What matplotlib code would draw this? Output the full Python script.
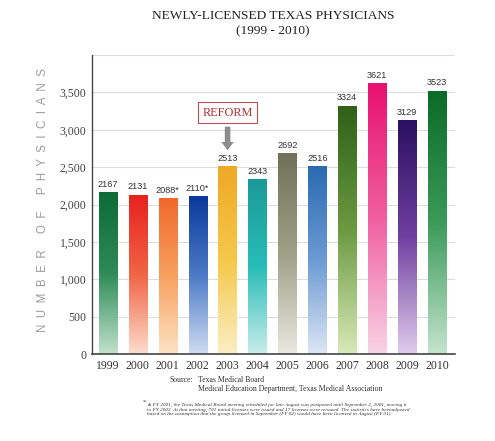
import numpy as np
import matplotlib.pyplot as plt
from matplotlib.colors import LinearSegmentedColormap
from matplotlib.patches import Rectangle

# DATA #################################################################################################################
years = ["1999", "2000", "2001", "2002", "2003", "2004", "2005", "2006", "2007", "2008", "2009", "2010"]
physicians = [2167, 2131, 2088, 2110, 2513, 2343, 2692, 2516, 3324, 3621, 3129, 3523]
value_labels = ["2167", "2131", "2088*", "2110*", "2513", "2343", "2692", "2516", "3324", "3621", "3129", "3523"]
# top, middle, bottom colour of each gradient bar
bar_colors = [
    ("#0d6b35", "#2e8b57", "#c0e2cc"),
    ("#e8211e", "#f06444", "#fcdccc"),
    ("#f0682a", "#f7a060", "#fde4c4"),
    ("#0a3a9a", "#4c7ac8", "#d0dcf0"),
    ("#f0a828", "#f5c84a", "#fbeec4"),
    ("#1a9a98", "#28bcb8", "#c8eeea"),
    ("#707058", "#a0a088", "#e8e8e0"),
    ("#2a6ab0", "#6c9ad4", "#dce6f4"),
    ("#2e6018", "#6a9a40", "#d8e8b8"),
    ("#e81070", "#f060a0", "#f8d4e6"),
    ("#2a1060", "#7040a0", "#e0ccec"),
    ("#0a6a28", "#3a9a5a", "#c4e4cc"),
]
yticks = [0, 500, 1000, 1500, 2000, 2500, 3000, 3500, 4000]

# FIGURE ###############################################################################################################
serif = ["Liberation Serif", "DejaVu Serif"]
sans = ["Liberation Sans", "DejaVu Sans"]

fig = plt.figure(figsize=(4.95, 4.41), dpi=100)
ax = fig.add_axes([0.186, 0.197, 0.733, 0.678])

x = np.arange(len(years))
width = 0.61
bars = ax.bar(x, physicians, width=width, color="none", edgecolor="none", zorder=2)
for b, (top, mid, bot) in zip(bars, bar_colors):
    cmap = LinearSegmentedColormap.from_list("g", [bot, mid, top])
    x0, y0 = b.get_x(), b.get_y()
    w, h = b.get_width(), b.get_height()
    grad = np.linspace(0, 1, 256).reshape(-1, 1)
    im = ax.imshow(grad, cmap=cmap, origin="lower", aspect="auto",
                   extent=(x0, x0 + w, y0, y0 + h), zorder=2)
    clip = Rectangle((x0, y0), w, h, transform=ax.transData)
    im.set_clip_path(clip)

for xi, v, lab in zip(x, physicians, value_labels):
    ax.text(xi, v + 45, lab, ha="center", va="bottom", fontsize=6.6, family=sans, color="#333333")

ax.set_xlim(-0.53, 11.6)
ax.set_ylim(0, 4000)
ax.set_xticks(x)
ax.set_xticklabels(years, family=serif, fontsize=8.5, color="#333333")
ax.set_yticks(yticks)
ax.set_yticklabels(["{:,}".format(t) if t < 4000 else "" for t in yticks], family=serif, fontsize=8.5,
                   color="#444444")
ax.tick_params(length=0, pad=4)
ax.grid(axis="y", color="#dddddd", linewidth=0.8, zorder=0)
ax.set_axisbelow(True)
for s in ["top", "right"]:
    ax.spines[s].set_visible(False)
ax.spines["left"].set_color("#444444")
ax.spines["bottom"].set_color("#444444")
ax.spines["left"].set_linewidth(1.0)
ax.spines["bottom"].set_linewidth(1.2)

# REFORM annotation
ax.annotate("", xy=(4, 2690), xytext=(4, 3080),
            arrowprops=dict(arrowstyle="simple,head_width=0.9,head_length=0.6,tail_width=0.4",
                            color="#8c8c8c", lw=0))
ax.text(4, 3230, "REFORM", ha="center", va="center", fontsize=8.8, family=serif, color="#b03035",
        bbox=dict(boxstyle="square,pad=0.35", facecolor="white", edgecolor="#b85055", linewidth=0.8))

# titles and labels
fig.text(0.552, 0.964, "NEWLY-LICENSED TEXAS PHYSICIANS", ha="center", va="center",
         fontsize=9.6, family=serif, color="#222222")
fig.text(0.552, 0.929, "(1999 - 2010)", ha="center", va="center", fontsize=9.6, family=serif,
         color="#222222")
fig.text(0.087, 0.546, "N  U  M  B  E  R     O  F     P  H  Y  S  I  C  I  A  N  S", rotation=90,
         ha="center", va="center", fontsize=8.3, family=sans, color="#9a9a9a")

fig.text(0.343, 0.139, "Source:", ha="left", va="center", fontsize=5.6, family=serif, color="#333333")
fig.text(0.400, 0.139, "Texas Medical Board", ha="left", va="center", fontsize=5.6, family=serif,
         color="#333333")
fig.text(0.400, 0.119, "Medical Education Department, Texas Medical Association", ha="left", va="center",
         fontsize=5.6, family=serif, color="#333333")

footnote = ("In FY 2001, the Texas Medical Board meeting scheduled for late August was postponed until September 2, 2001, moving it\n"
            "to FY 2002. At that meeting, 701 initial licenses were issued and 17 licenses were reissued. The statistics have beenadjusted\n"
            "based on the assumption that the group licensed in September (FY 02) would have been licensed in August (FY 01).")
fig.text(0.289, 0.088, "*", ha="left", va="center", fontsize=4.5, family=serif, color="#333333")
fig.text(0.297, 0.071, footnote, ha="left", va="center", fontsize=3.75, family=serif, style="italic",
         color="#333333", linespacing=1.15)

fig.savefig("out.png", dpi=100)
